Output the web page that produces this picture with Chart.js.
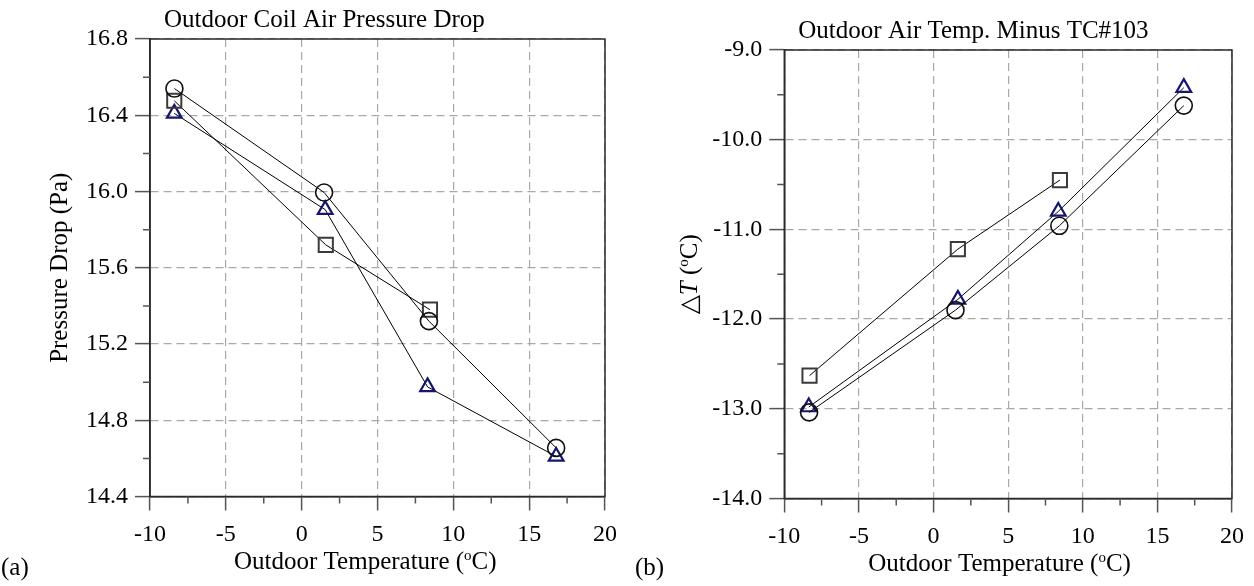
<!DOCTYPE html>
<html>
<head>
<meta charset="utf-8">
<script src="https://cdn.jsdelivr.net/npm/chart.js@4"></script>
<style>
  html, body { margin: 0; padding: 0; background: #fff; }
  #wrap { position: relative; width: 1254px; height: 586px; }
  canvas { position: absolute; top: 0; }
</style>
</head>
<body>
<div id="wrap">
  <canvas id="chartA" width="627" height="586" style="left:0"></canvas>
  <canvas id="chartB" width="627" height="586" style="left:627px"></canvas>
</div>
<script>
// (a) outdoor coil air pressure drop, Pa
const tempCircleA = [-8.39, 1.48, 8.39, 16.78]
const dropCircle = [16.54, 15.995, 15.32, 14.655]
const tempSquareA = [-8.4, 1.59, 8.46]
const dropSquare = [16.476, 15.72, 15.38]
const tempTriA = [-8.4, 1.55, 8.3, 16.78]
const dropTri = [16.41, 15.905, 14.975, 14.61]

// (b) outdoor air temp minus TC#103, C
const tempCircleB = [-8.34, 1.47, 8.43, 16.77]
const dtCircle = [-13.04, -11.90, -10.96, -9.62]
const tempSquareB = [-8.31, 1.63, 8.47]
const dtSquare = [-12.63, -11.22, -10.45]
const tempTriB = [-8.36, 1.63, 8.36, 16.77]
const dtTri = [-12.98, -11.78, -10.80, -9.42]

// minor tick positions
const xMinor = [-7.5, -2.5, 2.5, 7.5, 12.5, 17.5]
const yMinorA = [14.6, 15.0, 15.4, 15.8, 16.2, 16.6]
const yMinorB = [-13.5, -12.5, -11.5, -10.5, -9.5]

const SERIF = "'Liberation Serif', 'Times New Roman', serif"

Chart.defaults.font.family = SERIF
Chart.defaults.font.size = 24
Chart.defaults.color = '#000'

const markers = {
  circle: { pointStyle: 'circle', pointRadius: 8.5, pointBorderWidth: 1.6, pointBorderColor: '#111' },
  square: { pointStyle: 'rect', pointRadius: 10, pointBorderWidth: 2, pointBorderColor: '#3a3a3a' },
  triangle: { pointStyle: 'triangle', pointRadius: 8.5, pointBorderWidth: 2.2, pointBorderColor: '#16166e' }
}

function pts(xs, ys) {
  return xs.map((x, i) => ({ x: x, y: ys[i] }))
}

function series(xs, ys, marker) {
  return Object.assign({
    data: pts(xs, ys),
    showLine: true,
    borderColor: '#000',
    borderWidth: 1,
    pointBackgroundColor: 'rgba(0,0,0,0)',
    pointHoverRadius: 8
  }, markers[marker])
}

function font(size, italic, family) {
  return (italic ? 'italic ' : '') + size + 'px ' + (family || SERIF)
}

// text made of runs: {t, italic, sup, family}
function runsWidth(ctx, runs) {
  let w = 0
  runs.forEach(r => {
    ctx.font = font(r.sup ? 15 : 25, r.italic, r.family)
    w += ctx.measureText(r.t).width
  })
  return w
}

function drawRuns(ctx, runs, x, y) {
  runs.forEach(r => {
    ctx.font = font(r.sup ? 15 : 25, r.italic, r.family)
    ctx.fillText(r.t, x, r.sup ? y - 9 : y)
    x += ctx.measureText(r.t).width
  })
}

const xTitle = [{ t: 'Outdoor Temperature (' }, { t: 'o', sup: true }, { t: 'C)' }]

const decor = {
  id: 'decor',
  afterDraw(chart, args, o) {
    const ctx = chart.ctx
    const a = chart.chartArea
    const xs = chart.scales.x
    const ys = chart.scales.y
    ctx.save()
    ctx.strokeStyle = '#2a2a2a'
    ctx.lineWidth = 1.5
    ctx.strokeRect(a.left, a.top, a.right - a.left, a.bottom - a.top)

    ctx.strokeStyle = '#555'
    ctx.beginPath()
    xMinor.forEach(v => {
      const p = xs.getPixelForValue(v)
      ctx.moveTo(p, a.bottom)
      ctx.lineTo(p, a.bottom + 7)
    })
    o.yMinor.forEach(v => {
      const p = ys.getPixelForValue(v)
      ctx.moveTo(a.left - 7, p)
      ctx.lineTo(a.left, p)
    })
    ctx.stroke()

    ctx.fillStyle = '#000'
    ctx.textAlign = 'left'
    ctx.textBaseline = 'alphabetic'
    ctx.font = font(25)
    ctx.fillText(o.title, a.left + 14, a.top - 12)
    ctx.fillText(o.panel, o.panelX, 575)
    drawRuns(ctx, xTitle, a.left + 84, a.bottom + 72.5)

    ctx.translate(a.left - o.yGap, (a.top + a.bottom) / 2)
    ctx.rotate(-Math.PI / 2)
    drawRuns(ctx, o.yRuns, -runsWidth(ctx, o.yRuns) / 2, 0)
    ctx.restore()
  }
}

function makeChart(id, datasets, yOpts, pad, deco) {
  const tickFont = { family: SERIF, size: 24 }
  return new Chart(document.getElementById(id), {
    type: 'scatter',
    data: { datasets: datasets },
    options: {
      responsive: false,
      animation: false,
      layout: { padding: { left: 0, top: pad.top, right: pad.right, bottom: 0 } },
      plugins: {
        legend: { display: false },
        tooltip: { enabled: false },
        decor: deco
      },
      scales: {
        x: {
          type: 'linear',
          min: -10,
          max: 20,
          ticks: { stepSize: 5, color: '#000', font: tickFont, padding: 10 },
          grid: { color: '#a8a8a8', lineWidth: 1.2, tickLength: 14, tickColor: '#555', tickWidth: 1.5 },
          border: { color: '#222', width: 1.5, dash: [8, 5] },
          afterFit: s => { s.height = pad.xHeight }
        },
        y: {
          type: 'linear',
          min: yOpts.min,
          max: yOpts.max,
          ticks: {
            stepSize: yOpts.step,
            color: '#000',
            font: tickFont,
            padding: 7,
            callback: v => v.toFixed(1)
          },
          grid: { color: '#a8a8a8', lineWidth: 1.2, tickLength: 15, tickColor: '#555', tickWidth: 1.5 },
          border: { color: '#222', width: 1.5, dash: [8, 5] },
          afterFit: s => { s.width = pad.yWidth }
        }
      }
    },
    plugins: [decor]
  })
}

makeChart('chartA', [
  series(tempCircleA, dropCircle, 'circle'),
  series(tempSquareA, dropSquare, 'square'),
  series(tempTriA, dropTri, 'triangle')
], { min: 14.4, max: 16.8, step: 0.4 },
{ top: 39, right: 21, yWidth: 150, xHeight: 89.5 },
{
  title: 'Outdoor Coil Air Pressure Drop',
  panel: '(a)',
  panelX: 1,
  yMinor: yMinorA,
  yGap: 83,
  yRuns: [{ t: 'Pressure Drop (Pa)' }]
})

makeChart('chartB', [
  series(tempCircleB, dtCircle, 'circle'),
  series(tempSquareB, dtSquare, 'square'),
  series(tempTriB, dtTri, 'triangle')
], { min: -14, max: -9, step: 1 },
{ top: 50, right: 19.7, yWidth: 157.3, xHeight: 87.5 },
{
  title: 'Outdoor Air Temp. Minus TC#103',
  panel: '(b)',
  panelX: 8,
  yMinor: yMinorB,
  yGap: 87,
  yRuns: [
    { t: '\u25B3', family: "'DejaVu Sans', sans-serif" },
    { t: 'T', italic: true },
    { t: ' (' },
    { t: 'o', sup: true },
    { t: 'C)' }
  ]
})
</script>
</body>
</html>
